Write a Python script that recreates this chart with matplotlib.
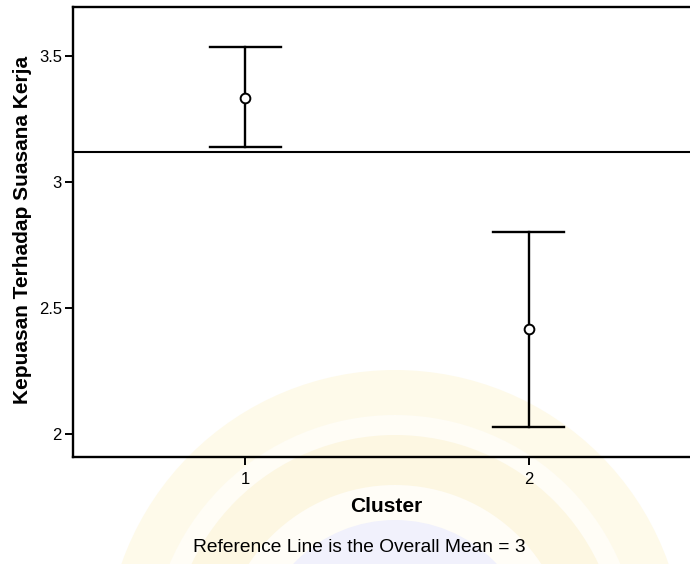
import matplotlib.pyplot as plt
from matplotlib.patches import Circle

# cluster means with 95% CI bounds
clusters = [1, 2]
means = [3.335, 2.415]
ci_low = [3.138, 2.029]
ci_high = [3.536, 2.800]
overall_mean = 3.12

y_ticks = [2, 2.5, 3, 3.5]
y_ticklabels = ["2", "2.5", "3", "3.5"]

plt.rcParams["font.family"] = ["Liberation Sans", "DejaVu Sans"]

fig = plt.figure(figsize=(6.9, 5.64), dpi=100)
W, H = 690, 564

# faint seal watermark behind the chart
cx, cy = 395, 564 - 660
for r, c in [(290, "#fefaea"), (245, "#fffdf6"), (225, "#fdf7e2"), (175, "#fffdf7")]:
    fig.patches.append(Circle((cx, cy), r, transform=None,
                              facecolor=c, edgecolor="none", zorder=0))
fig.patches.append(Circle((cx, cy), 140, transform=None,
                          facecolor="#f1f1fc", edgecolor="none", zorder=0))

ax = fig.add_axes([73 / W, 1 - 457 / H, (701 - 73) / W, (457 - 7) / H])
ax.set_facecolor("none")
ax.set_zorder(2)

for x, m, lo, hi in zip(clusters, means, ci_low, ci_high):
    ax.plot([x, x], [lo, hi], color="black", lw=1.7, zorder=2)
    ax.plot([x - 0.125, x + 0.125], [lo, lo], color="black", lw=1.7, zorder=2)
    ax.plot([x - 0.125, x + 0.125], [hi, hi], color="black", lw=1.7, zorder=2)
    ax.plot(x, m, marker="o", ms=7, mfc="white", mec="black", mew=1.4, zorder=3)

ax.axhline(overall_mean, color="black", lw=1.5, zorder=2)

ax.set_xlim(0.394, 2.606)
ax.set_ylim(1.909, 3.694)
ax.set_xticks(clusters)
ax.set_xticklabels([str(c) for c in clusters], fontsize=12)
ax.set_yticks(y_ticks)
ax.set_yticklabels(y_ticklabels, fontsize=12)
ax.tick_params(direction="out", length=6, width=1.4)
ax.tick_params(axis="x", pad=5)
ax.tick_params(axis="y", pad=2)

for side in ["left", "bottom", "top"]:
    ax.spines[side].set_linewidth(1.7)
ax.spines["right"].set_visible(False)

ax.set_xlabel("Cluster", fontsize=15, fontweight="bold")
ax.set_ylabel("Kepuasan Terhadap Suasana Kerja", fontsize=15, fontweight="bold")
ax.xaxis.set_label_coords((386 - 73) / (701 - 73), -(507 - 457) / (457 - 7))
ax.xaxis.label.set_va("center")
ax.yaxis.set_label_coords(-(73 - 23) / (701 - 73), (457 - 230) / (457 - 7))
ax.yaxis.label.set_va("center")

fig.text(193 / W, 1 - 548 / H, "Reference Line is the Overall Mean = 3",
         fontsize=13.8, ha="left", va="center")

fig.savefig("out.png", dpi=100)
